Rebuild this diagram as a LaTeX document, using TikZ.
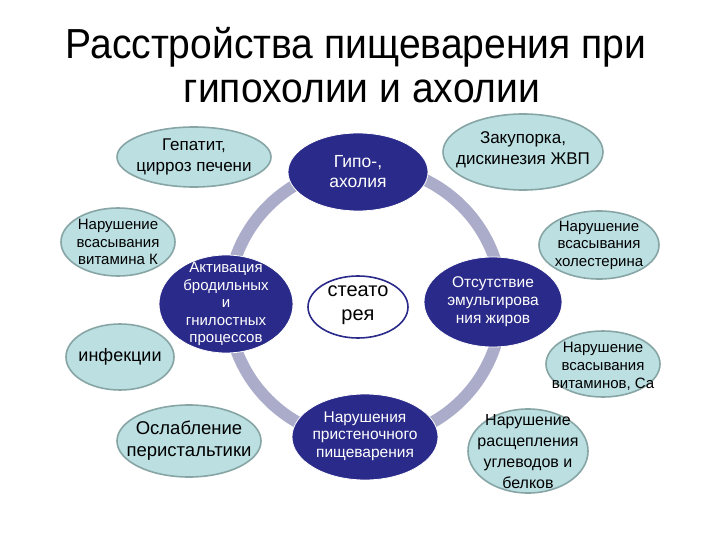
\documentclass[tikz,border=0pt]{standalone}
\usepackage{fontspec}
\setmainfont{Liberation Sans}
\newfontfamily\titlefont[FakeStretch=0.93]{Liberation Sans}
\usepackage{xcolor}
\usetikzlibrary{shapes.geometric, positioning}

\definecolor{ringgray}{RGB}{170,172,202}
\definecolor{deepblue}{RGB}{42,42,138}
\definecolor{softteal}{RGB}{188,223,226}
\definecolor{softedge}{RGB}{135,165,165}

\begin{document}
\begin{tikzpicture}[
    x=1pt,
    y=-1pt,
    ring/.style={draw=ringgray, line width=12pt},
    soft/.style={fill=softteal, draw=softedge, line width=1.6pt},
    deep/.style={fill=deepblue, draw=white, line width=0.8pt},
    hollow/.style={fill=white, draw=deepblue, line width=1.6pt},
    softtxt/.style={align=center, text=black, inner sep=0pt},
    deeptxt/.style={align=center, text=white, inner sep=0pt},
    titletxt/.style={font=\titlefont\fontsize{42}{42}\selectfont, inner sep=0pt}
]

    % --- Page ---
    \fill[white] (0,0) rectangle (720,540);
    \useasboundingbox (0,0) rectangle (720,540);

    % --- Title ---
    \node[titletxt, anchor=base] (title1) at (356,59) {Расстройства пищеварения при};
    \node[titletxt, anchor=base] (title2) at (362,103) {гипохолии и ахолии};

    % --- Ring ---
    \draw[ring] (365,303) circle[radius=137pt];

    % --- Causes and consequences (light) ---
    \filldraw[soft] (194,157) ellipse[x radius=77pt, y radius=30pt];
    \node[softtxt, font=\fontsize{17}{21}\selectfont] (hepatitis) at (194,157) {Гепатит,\\цирроз печени};

    \filldraw[soft] (523,152) ellipse[x radius=80pt, y radius=38pt];
    \node[softtxt, font=\fontsize{17}{21}\selectfont] (blockage) at (523,150) {Закупорка,\\дискинезия ЖВП};

    \filldraw[soft] (118,242) ellipse[x radius=57pt, y radius=34pt];
    \node[softtxt, font=\fontsize{15}{17.5}\selectfont] (vitk) at (118,242) {Нарушение\\всасывания\\витамина К};

    \filldraw[soft] (599,245) ellipse[x radius=60pt, y radius=34pt];
    \node[softtxt, font=\fontsize{15}{17.5}\selectfont] (cholest) at (599,245) {Нарушение\\всасывания\\холестерина};

    \filldraw[soft] (120,357) ellipse[x radius=54pt, y radius=33pt];
    \node[softtxt, font=\fontsize{18}{22}\selectfont] (infect) at (120,357) {инфекции};

    \filldraw[soft] (603,364) ellipse[x radius=57pt, y radius=33pt];
    \node[softtxt, font=\fontsize{15}{18}\selectfont] (vitca) at (603,366) {Нарушение\\всасывания\\витаминов, Ca};

    \filldraw[soft] (189,441) ellipse[x radius=72pt, y radius=36pt];
    \node[softtxt, font=\fontsize{18.5}{22}\selectfont] (peristal) at (189,441) {Ослабление\\перистальтики};

    \filldraw[soft] (528,451) ellipse[x radius=60pt, y radius=42pt];
    \node[softtxt, font=\fontsize{16}{21}\selectfont] (splitting) at (528,452) {Нарушение\\расщепления\\углеводов и\\белков};

    % --- Core chain (dark) ---
    \filldraw[deep] (358,172) ellipse[x radius=70pt, y radius=39pt];
    \node[deeptxt, font=\fontsize{17.5}{20}\selectfont] (hypo) at (358,172) {Гипо-,\\ахолия};

    \filldraw[deep] (226,304) ellipse[x radius=67pt, y radius=49pt];
    \node[deeptxt, font=\fontsize{15}{17.5}\selectfont] (ferment) at (226,304) {Активация\\бродильных\\и\\гнилостных\\процессов};

    \filldraw[deep] (493,302) ellipse[x radius=69pt, y radius=45pt];
    \node[deeptxt, font=\fontsize{15.5}{18}\selectfont] (emuls) at (493,302) {Отсутствие\\эмульгирова\\ния жиров};

    \filldraw[deep] (365,437) ellipse[x radius=73pt, y radius=43pt];
    \node[deeptxt, font=\fontsize{15.5}{17.5}\selectfont] (parietal) at (365,436) {Нарушения\\пристеночного\\пищеварения};

    \filldraw[hollow] (358,307) ellipse[x radius=50pt, y radius=31pt];
    \node[softtxt, font=\fontsize{20}{24}\selectfont] (steat) at (358,305) {стеато\\рея};

\end{tikzpicture}
\end{document}
